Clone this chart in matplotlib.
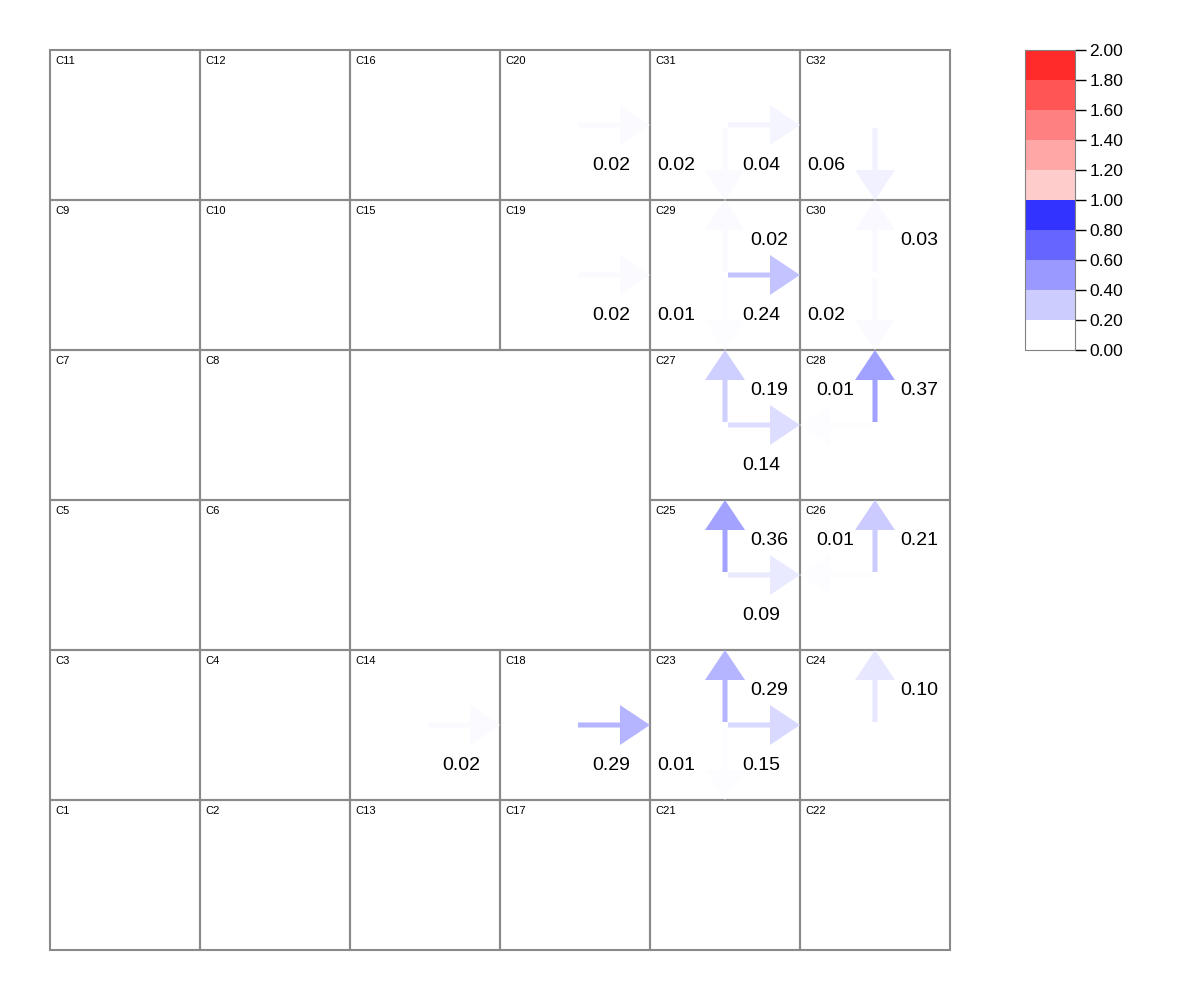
import matplotlib.pyplot as plt
import matplotlib as mpl
from matplotlib.patches import Rectangle, FancyArrow
from matplotlib.colors import ListedColormap, BoundaryNorm, LinearSegmentedColormap, Normalize

plt.rcParams['font.family'] = ['Liberation Sans', 'DejaVu Sans']

# cell layout, top row first (None = merged block)
cell_rows = [
    ['C11', 'C12', 'C16', 'C20', 'C31', 'C32'],
    ['C9', 'C10', 'C15', 'C19', 'C29', 'C30'],
    ['C7', 'C8', None, None, 'C27', 'C28'],
    ['C5', 'C6', None, None, 'C25', 'C26'],
    ['C3', 'C4', 'C14', 'C18', 'C23', 'C24'],
    ['C1', 'C2', 'C13', 'C17', 'C21', 'C22'],
]

# flows between cells
flow_cells = ['C20', 'C19', 'C31', 'C31', 'C32', 'C29', 'C29', 'C29', 'C30', 'C30',
              'C27', 'C27', 'C28', 'C28', 'C25', 'C25', 'C26', 'C26',
              'C14', 'C18', 'C23', 'C23', 'C23', 'C24']
flow_dirs = ['right', 'right', 'right', 'down', 'down', 'up', 'right', 'down', 'up', 'down',
             'up', 'right', 'left', 'up', 'up', 'right', 'left', 'up',
             'right', 'right', 'up', 'right', 'down', 'up']
flow_values = [0.02, 0.02, 0.04, 0.02, 0.06, 0.02, 0.24, 0.01, 0.03, 0.02,
               0.19, 0.14, 0.01, 0.37, 0.36, 0.09, 0.01, 0.21,
               0.02, 0.29, 0.29, 0.15, 0.01, 0.10]

# colour scale
cbar_bounds = [0.0, 0.2, 0.4, 0.6, 0.8, 1.0, 1.2, 1.4, 1.6, 1.8, 2.0]
cbar_colors = ['#ffffff', '#ccccff', '#9999ff', '#6666ff', '#3333ff',
               '#ffcccc', '#ffa6a6', '#ff8080', '#ff5555', '#ff2a2a']

flow_cmap = LinearSegmentedColormap.from_list(
    'flow', [(0, 'white'), (0.5, 'blue'), (0.5, '#ffcccc'), (1, 'red')])
flow_norm = Normalize(0, 2)

fig = plt.figure(figsize=(12, 10), dpi=100)
ax = fig.add_axes([50 / 1200, 50 / 1000, 900 / 1200, 900 / 1000])
ax.set_xlim(0, 6)
ax.set_ylim(6, 0)
ax.axis('off')

grid_color = '#8a8a8a'
centers = {}
for r, row in enumerate(cell_rows):
    for c, name in enumerate(row):
        if name is None:
            continue
        centers[name] = (c + 0.5, r + 0.5)
        ax.add_patch(Rectangle((c, r), 1, 1, fill=False, ec=grid_color, lw=1.5,
                               clip_on=False, zorder=1))
        ax.text(c + 0.035, r + 0.04, name, fontsize=8, ha='left', va='top', zorder=4)

# merged middle block
ax.add_patch(Rectangle((2, 2), 2, 2, fill=False, ec=grid_color, lw=1.5,
                       clip_on=False, zorder=1))

dir_vec = {'right': (1, 0), 'left': (-1, 0), 'up': (0, -1), 'down': (0, 1)}
# label offsets from the cell centre (in cell units)
label_off = {'right': (0.24, 0.273), 'down': (-0.327, 0.273),
             'up': (0.293, -0.233), 'left': (-0.267, -0.233)}

px = 1 / 150
for name, d, v in zip(flow_cells, flow_dirs, flow_values):
    cx, cy = centers[name]
    ux, uy = dir_vec[d]
    start = 3 * px
    length = 0.5 - start
    col = flow_cmap(flow_norm(v))
    ax.add_patch(FancyArrow(cx + ux * start, cy + uy * start, ux * length, uy * length,
                            width=5 * px, head_width=40 * px, head_length=30 * px,
                            length_includes_head=True, color=col, lw=0, zorder=2))
    ox, oy = label_off[d]
    ax.text(cx + ox, cy + oy, '%.2f' % v, fontsize=14, ha='center', va='center', zorder=5)

# colour bar
cax = fig.add_axes([1025 / 1200, 0.65, 50 / 1200, 0.30])
cb = mpl.colorbar.ColorbarBase(cax, cmap=ListedColormap(cbar_colors),
                               norm=BoundaryNorm(cbar_bounds, len(cbar_colors)),
                               ticks=cbar_bounds, format='%.2f')
cb.outline.set_edgecolor('#808080')
cax.tick_params(length=8, width=1, labelsize=12.5, pad=2.5)

fig.savefig('out.png', dpi=100)
